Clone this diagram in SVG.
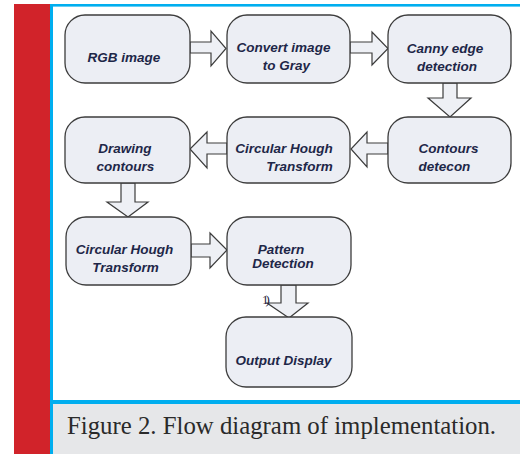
<svg xmlns="http://www.w3.org/2000/svg" width="520" height="454" viewBox="0 0 520 454">
  <style>
    .node rect { fill: #eceef4; stroke: #3c3c3c; stroke-width: 1.3; }
    .node text { font-family: "Liberation Sans", Arial, sans-serif; font-weight: bold; font-style: italic; font-size: 13.5px; fill: #1e2748; text-anchor: middle; }
    .arrow { fill: #eef0f5; stroke: #3c3c3c; stroke-width: 1.2; stroke-linejoin: miter; }
    .caption { font-family: "Liberation Serif", "Times New Roman", serif; font-size: 24.8px; fill: #2a2a2a; }
    .note { font-family: "Liberation Serif", "Times New Roman", serif; font-size: 13px; fill: #2a2440; }
  </style>

  <!-- page background and frame -->
  <rect x="0" y="0" width="520" height="454" fill="#ffffff"/>
  <rect x="14" y="4" width="36" height="450" fill="#d1232a"/>
  <rect x="53" y="404" width="467" height="50" fill="#e6e7e9"/>
  <rect x="50" y="4" width="3" height="450" fill="#00aeef"/>
  <rect x="50" y="4" width="470" height="2.6" fill="#00aeef"/>
  <rect x="50" y="400" width="470" height="4" fill="#00aeef"/>

  <!-- connectors: hollow block arrows -->
  <g id="connectors">
    <polygon class="arrow" points="190,42 211,42 211,31 226,48.5 211,66 211,53 190,53"/>
    <polygon class="arrow" points="350,42 372,42 372,32 388,48.5 372,65 372,53 350,53"/>
    <polygon class="arrow" points="443,83 457,83 457,98 471,98 450,117 428,98 443,98"/>
    <polygon class="arrow" points="388,143 367,143 367,132 351,149 367,167 367,154 388,154"/>
    <polygon class="arrow" points="227,143 207,143 207,132 190,149 207,168 207,154 227,154"/>
    <polygon class="arrow" points="121,183 135,183 135,202 148,202 128,217 107,202 121,202"/>
    <polygon class="arrow" points="191,244 210,244 210,233 227,250 210,268 210,257 191,257"/>
    <polygon class="arrow" points="281,285 296,285 296,303 308,303 289,318 267,303 281,303"/>
  </g>

  <!-- row 1 -->
  <g id="rgb-image" class="node">
    <rect x="65" y="15" width="125" height="68" rx="20"/>
    <text x="124" y="61.5">RGB image</text>
  </g>
  <g id="convert-gray" class="node">
    <rect x="227" y="15" width="123" height="68" rx="20"/>
    <text x="283.5" y="52">Convert image</text>
    <text x="286.5" y="70">to Gray</text>
  </g>
  <g id="canny" class="node">
    <rect x="388" y="15" width="123" height="68" rx="20"/>
    <text x="445" y="52.5">Canny edge</text>
    <text x="447" y="70.5">detection</text>
  </g>

  <!-- row 2 -->
  <g id="contours-detection" class="node">
    <rect x="388" y="117" width="123" height="66" rx="20"/>
    <text x="448.5" y="152.5">Contours</text>
    <text x="444.5" y="170.5">detecon</text>
  </g>
  <g id="hough-1" class="node">
    <rect x="227" y="117" width="123" height="66" rx="20"/>
    <text x="284" y="152.5">Circular Hough</text>
    <text x="299.5" y="170.5">Transform</text>
  </g>
  <g id="drawing-contours" class="node">
    <rect x="65" y="117" width="125" height="66" rx="20"/>
    <text x="125" y="152.5">Drawing</text>
    <text x="125.5" y="170.5">contours</text>
  </g>

  <!-- row 3 -->
  <g id="hough-2" class="node">
    <rect x="66" y="217" width="125" height="68" rx="20"/>
    <text x="124.5" y="253.5">Circular Hough</text>
    <text x="125.5" y="272">Transform</text>
  </g>
  <g id="pattern-detection" class="node">
    <rect x="227" y="217" width="124" height="68" rx="20"/>
    <text x="281" y="253.5">Pattern</text>
    <text x="283" y="267.5">Detection</text>
  </g>

  <text class="note" x="262" y="304" letter-spacing="-3">1)</text>

  <!-- row 4 -->
  <g id="output-display" class="node">
    <rect x="226" y="317" width="126" height="70" rx="20"/>
    <text x="283.5" y="364.5">Output Display</text>
  </g>

  <text class="caption" x="67" y="434">Figure 2. Flow diagram of implementation.</text>
</svg>
